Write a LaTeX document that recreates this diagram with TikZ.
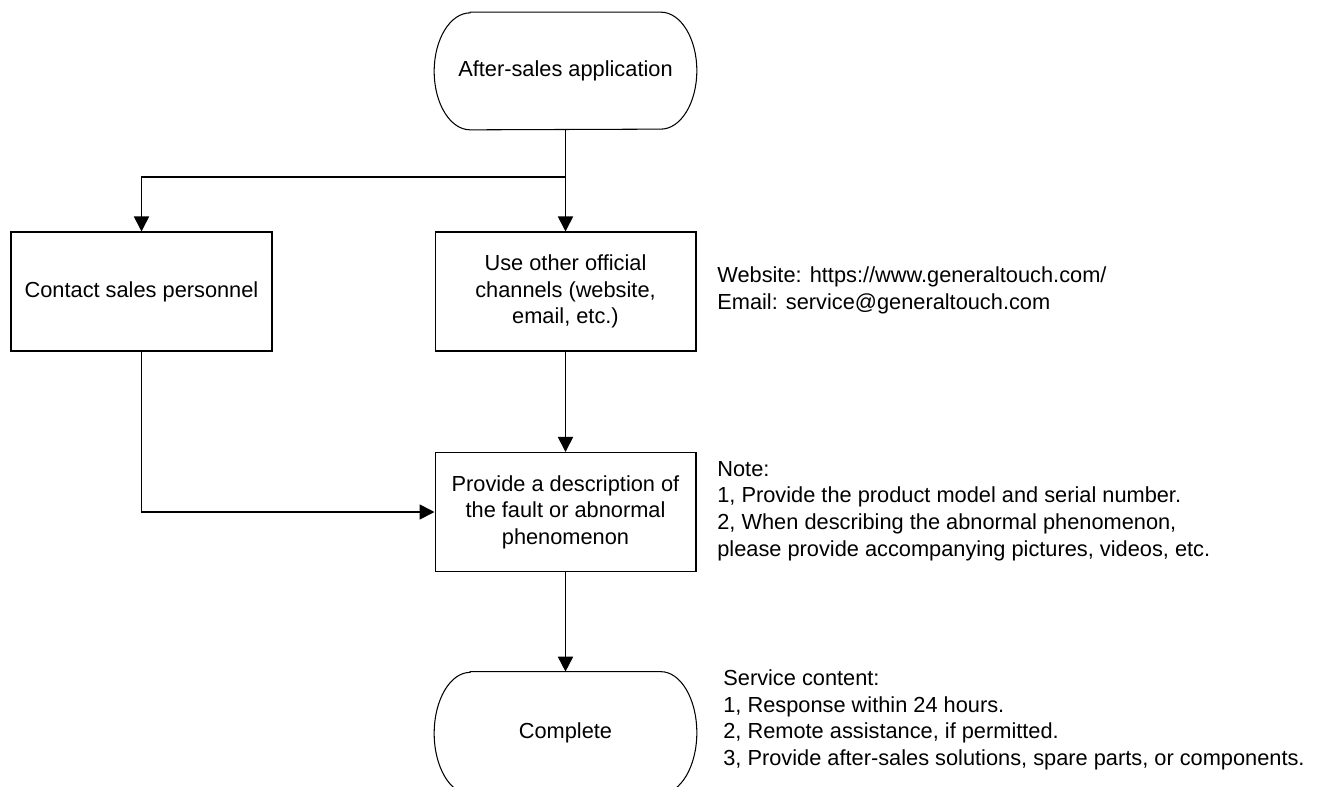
\documentclass[tikz,border=0pt]{standalone}
\usepackage{fontspec}
\setmainfont{Liberation Sans}
\usetikzlibrary{arrows.meta}
\begin{document}
\begin{tikzpicture}[x=0.02cm, y=-0.02cm, font=\fontsize{12.4}{15.1}\selectfont,
  box/.style={rectangle, draw, line width=0.6pt, minimum width=5.22cm, minimum height=2.38cm, align=center, inner sep=0pt},
  term/.style={rectangle, inner sep=0pt, minimum width=5.24cm, align=center},
  arr/.style={line width=1pt, -{Triangle[length=0.3cm, width=0.3cm]}},
  note/.style={anchor=west, align=left, inner sep=0pt}]
\useasboundingbox (0,0) rectangle (1335,787);
\node[term, minimum height=2.34cm] (start) at (565.5,71) {After-sales application};
\node[box] (contact) at (141.5,291.5) {Contact sales personnel};
\node[box] (official) at (565.5,291.5) {Use other official\\channels (website,\\email, etc.)};
\node[box] (describe) at (565.5,512) {Provide a description of\\the fault or abnormal\\phenomenon};
\node[term, minimum height=2.44cm] (done) at (565.5,733) {Complete};
\coordinate (split) at (565.5,177);

% side notes
\node[note] (web) at (717,290.5) {Website: https://www.generaltouch.com/\\Email: service@generaltouch.com};
\node[note] (note) at (717,511) {Note:\\1, Provide the product model and serial number.\\2, When describing the abnormal phenomenon,\\please provide accompanying pictures, videos, etc.};
\node[note] (service) at (723,720) {Service content:\\1, Response within 24 hours.\\2, Remote assistance, if permitted.\\3, Provide after-sales solutions, spare parts, or components.};

% terminator outlines
\foreach \n/\r in {start/1.17cm, done/1.22cm}
  \draw[line width=0.6pt] ([xshift=0.72cm]\n.north west) -- ([xshift=-0.72cm]\n.north east)
    arc[start angle=90, end angle=-90, x radius=0.72cm, y radius=\r]
    -- ([xshift=0.72cm]\n.south west)
    arc[start angle=270, end angle=90, x radius=0.72cm, y radius=\r] -- cycle;

\draw[arr] (start) -- (official);
\draw[arr] (split) -| (contact);
\draw[arr] (official) -- (describe);
\draw[arr] (contact) |- (describe);
\draw[arr] (describe) -- (done);
\end{tikzpicture}
\end{document}
